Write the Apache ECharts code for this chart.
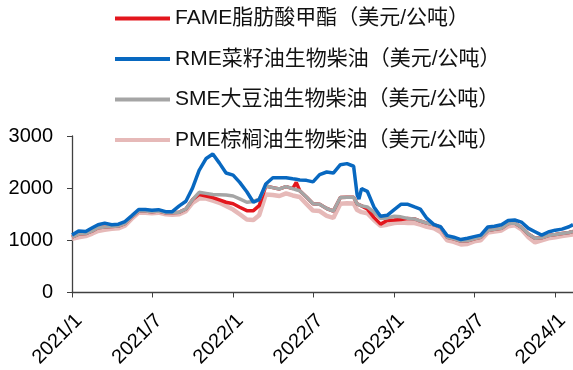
<!DOCTYPE html>
<html>
<head>
<meta charset="utf-8">
<script src="https://cdn.jsdelivr.net/npm/echarts@6/dist/echarts.min.js"></script>
<style>html,body{margin:0;padding:0;background:#fff}#c{width:573px;height:370px}</style>
</head>
<body>
<div id="c"></div>
<script>
const seriesNames = ['FAME脂肪酸甲酯（美元/公吨）','RME菜籽油生物柴油（美元/公吨）','SME大豆油生物柴油（美元/公吨）','PME棕榈油生物柴油（美元/公吨）'];
const dates = [
'2021-01-01','2021-01-16','2021-02-01','2021-02-16','2021-03-01','2021-03-16','2021-04-01','2021-04-16','2021-05-01','2021-05-16','2021-06-01','2021-06-16','2021-07-01','2021-07-16','2021-08-01','2021-08-16','2021-09-01','2021-09-16','2021-10-01','2021-10-16','2021-11-01','2021-11-16','2021-12-01','2021-12-16',
'2022-01-01','2022-01-16','2022-02-01','2022-02-16','2022-03-01','2022-03-16','2022-04-01','2022-04-16','2022-05-01','2022-05-16','2022-05-24','2022-06-01','2022-06-16','2022-07-01','2022-07-16','2022-08-01','2022-08-16','2022-09-01','2022-09-16','2022-10-01','2022-10-09','2022-10-13','2022-10-19','2022-11-01','2022-11-16','2022-12-01','2022-12-16',
'2023-01-01','2023-01-16','2023-02-01','2023-02-16','2023-03-01','2023-03-16','2023-04-01','2023-04-16','2023-05-01','2023-05-16','2023-06-01','2023-06-16','2023-07-01','2023-07-16','2023-08-01','2023-08-16','2023-09-01','2023-09-16','2023-10-01','2023-10-16','2023-11-01','2023-11-16','2023-12-01','2023-12-16',
'2024-01-01','2024-01-16','2024-02-01','2024-02-10'];
const fame = [
1060,1120,1130,1180,1240,1255,1265,1275,1320,1450,1560,1560,1550,1560,1530,1530,1540,1600,1780,1880,1850,1820,1775,1730,
1700,1634,1569,1569,1664,2040,2010,1985,2030,1990,2110,1950,1830,1700,1690,1610,1560,1820,1825,1825,1700,1670,1660,1600,1440,1310,1380,
1390,1400,1420,1410,1370,1330,1300,1250,1060,1030,985,990,1030,1060,1190,1210,1230,1320,1330,1250,1120,1040,1050,1090,
1110,1130,1150,1170];
const rme = [
1100,1180,1170,1240,1300,1330,1300,1310,1360,1470,1590,1590,1575,1588,1550,1550,1660,1750,2000,2340,2570,2655,2480,2290,
2250,2110,1930,1730,1780,2080,2200,2200,2200,2180,2170,2155,2150,2120,2260,2310,2290,2450,2470,2420,1870,1790,1990,1940,1640,1460,1480,
1590,1690,1690,1640,1600,1420,1300,1260,1090,1060,1015,1040,1070,1100,1255,1270,1300,1380,1390,1350,1230,1165,1100,1160,
1195,1215,1260,1300];
const sme = [
1060,1120,1130,1180,1240,1255,1265,1275,1320,1450,1560,1560,1550,1560,1530,1530,1540,1600,1780,1920,1900,1880,1875,1870,
1850,1795,1730,1745,1790,2040,2010,1985,2030,1990,1970,1950,1830,1700,1690,1610,1560,1820,1825,1825,1700,1670,1660,1640,1540,1420,1430,
1460,1450,1420,1410,1370,1330,1300,1250,1060,1030,985,990,1030,1060,1190,1210,1230,1320,1330,1250,1120,1040,1050,1090,
1110,1130,1150,1170];
const pme = [
1030,1060,1080,1130,1180,1200,1220,1230,1280,1410,1530,1530,1520,1530,1500,1490,1500,1560,1720,1800,1800,1760,1720,1660,
1590,1500,1400,1390,1480,1880,1870,1850,1900,1860,1845,1830,1700,1570,1560,1470,1430,1700,1710,1705,1580,1550,1540,1520,1390,1280,1300,
1330,1340,1330,1330,1300,1260,1230,1160,1000,970,920,930,980,1000,1150,1170,1190,1270,1290,1210,1060,960,1000,1040,
1060,1080,1100,1110];
const tickDates = ['2021-01-01','2021-07-01','2022-01-01','2022-07-01','2023-01-01','2023-07-01','2024-01-01'];
const tickLabels = ['2021/1','2021/7','2022/1','2022/7','2023/1','2023/7','2024/1'];
const yTicks = [0,1000,2000,3000];

function ts(s){const p=s.split('-').map(Number);return Date.UTC(p[0],p[1]-1,p[2]);}
const tickTs = tickDates.map(ts);
const pairs = arr => dates.map((d,i)=>[ts(d),arr[i]]);
const FONT = "'Liberation Sans','Noto Sans CJK SC',sans-serif";

const chart = echarts.init(document.getElementById('c'), null, {renderer:'canvas'});
chart.setOption({
  animation:false,
  backgroundColor:'#fff',
  textStyle:{fontFamily:FONT},
  legend:{
    orient:'vertical', left:115, top:8, itemGap:19.5, padding:0,
    icon:'rect', itemWidth:55, itemHeight:4,
    data:seriesNames,
    textStyle:{fontSize:21, color:'#111', fontFamily:FONT}
  },
  grid:{left:72, right:0, top:136, bottom:76, containLabel:false},
  xAxis:{
    type:'value', min:ts('2021-01-01'), max:ts('2024-02-10'),
    axisLine:{lineStyle:{color:'#404040', width:1.3}},
    axisTick:{show:true, length:5, lineStyle:{color:'#404040'}, customValues:tickTs},
    axisLabel:{customValues:tickTs, rotate:45, margin:18, fontSize:20, color:'#000', fontFamily:FONT,
      align:'right', verticalAlign:'top',
      formatter:v=>{const i=tickTs.indexOf(v);return i>=0?tickLabels[i]:'';}},
    splitLine:{show:false}
  },
  yAxis:{
    type:'value', min:yTicks[0], max:yTicks[yTicks.length-1], interval:1000,
    axisLine:{show:true, lineStyle:{color:'#404040', width:1.3}},
    axisTick:{show:true, length:5, lineStyle:{color:'#404040'}},
    axisLabel:{fontSize:20, color:'#000', margin:19, fontFamily:FONT, formatter:v=>String(v)},
    splitLine:{show:false}
  },
  series:[
    {name:seriesNames[3], type:'line', data:pairs(pme), symbol:'none', z:1, itemStyle:{color:'#E6B9B8'}, lineStyle:{color:'#E6B9B8', width:4.5}},
    {name:seriesNames[0], type:'line', data:pairs(fame), symbol:'none', z:2, itemStyle:{color:'#E3161D'}, lineStyle:{color:'#E3161D', width:3.5}},
    {name:seriesNames[2], type:'line', data:pairs(sme), symbol:'none', z:3, itemStyle:{color:'#A5A5A5'}, lineStyle:{color:'#A5A5A5', width:3.5}},
    {name:seriesNames[1], type:'line', data:pairs(rme), symbol:'none', z:4, itemStyle:{color:'#0868C0'}, lineStyle:{color:'#0868C0', width:3.5}}
  ]
});
</script>
</body>
</html>
